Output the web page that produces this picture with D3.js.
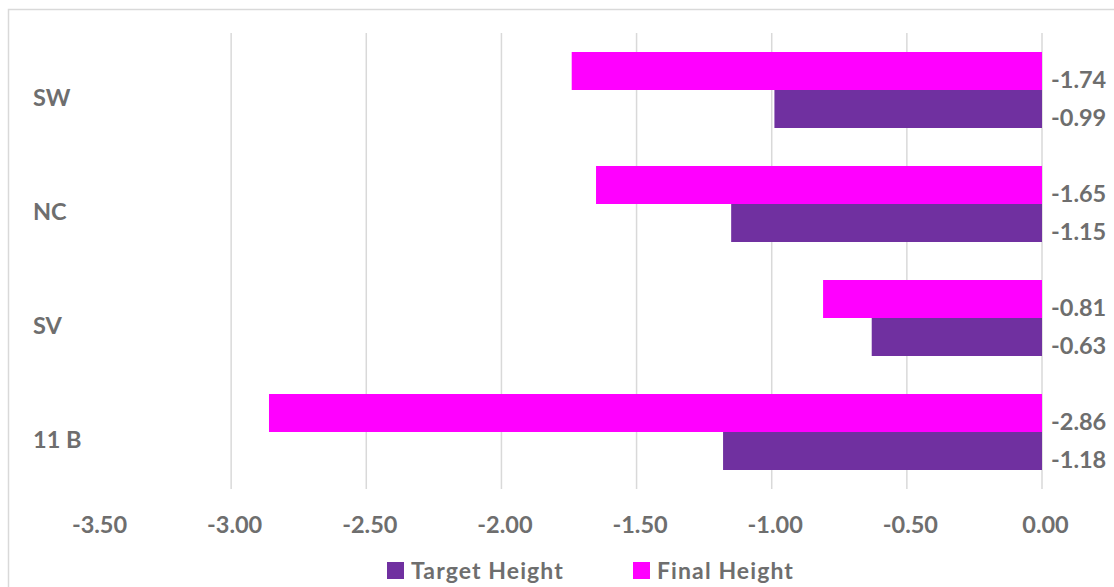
<!DOCTYPE html>
<html><head><meta charset="utf-8">
<script src="https://cdn.jsdelivr.net/npm/d3@7"></script>
<style>body{margin:0;background:#fff;overflow:hidden}svg{display:block}</style>
</head><body><svg id="c" width="1114" height="587"></svg>
<script>
const categories = ["SW", "NC", "SV", "11 B"];
const finalHeight = [-1.74, -1.65, -0.81, -2.86];
const targetHeight = [-0.99, -1.15, -0.63, -1.18];
const tickValues = [-3.5, -3.0, -2.5, -2.0, -1.5, -1.0, -0.5, 0.0];
const seriesNames = ["Target Height", "Final Height"];

const colors = {"Target Height": "#7030A0", "Final Height": "#FF00FF"};
const textColor = "#6e6e6e";
const font = "Lato, 'Open Sans', sans-serif";
const fmt = v => v.toFixed(2);

const svg = d3.select("#c");
// outer frame
svg.append("rect").attr("x", 8.5).attr("y", 9.5).attr("width", 1130).attr("height", 600)
  .attr("fill", "none").attr("stroke", "#d9d9d9").attr("stroke-width", 1.5);

const x = d3.scaleLinear().domain([-3.5, 0]).range([96, 1042]);
const y = d3.scaleBand().domain(categories).range([33, 489]).paddingInner(1/3).paddingOuter(1/6);
const sub = d3.scaleBand().domain(["Final Height", "Target Height"]).range([0, y.bandwidth()]);

// gridlines (skip the leftmost)
svg.append("g").selectAll("line").data(tickValues.filter(t => t > -3.5)).join("line")
  .attr("x1", d => x(d)).attr("x2", d => x(d)).attr("y1", 33).attr("y2", 489)
  .attr("stroke", "#d9d9d9").attr("stroke-width", 1.5);

const data = [];
categories.forEach((c, i) => {
  data.push({cat: c, s: "Final Height", v: finalHeight[i]});
  data.push({cat: c, s: "Target Height", v: targetHeight[i]});
});

svg.append("g").selectAll("rect").data(data).join("rect")
  .attr("x", d => x(d.v)).attr("width", d => x(0) - x(d.v))
  .attr("y", d => y(d.cat) + sub(d.s)).attr("height", sub.bandwidth())
  .attr("fill", d => colors[d.s]);

// value labels
svg.append("g").selectAll("text").data(data).join("text")
  .attr("x", x(0) + 9).attr("y", d => y(d.cat) + sub(d.s) + sub.bandwidth()/2 + 17)
  .attr("font-family", font).attr("font-weight", 700).attr("font-size", 23.5)
  .attr("fill", textColor)
  .text(d => fmt(d.v));

// category labels
svg.append("g").selectAll("text").data(categories).join("text")
  .attr("x", 33).attr("y", d => y(d) + y.bandwidth()/2 + 16)
  .attr("font-family", font).attr("font-weight", 700).attr("font-size", 23.5)
  .attr("fill", textColor)
  .text(d => d);

// x-axis tick labels
const ax = svg.append("g").attr("transform", "translate(0,489)")
  .call(d3.axisBottom(x).tickValues(tickValues).tickFormat(fmt).tickSize(0).tickPadding(0));
ax.select(".domain").remove();
ax.selectAll("text").attr("y", 44).attr("dy", null).attr("dx", 3)
  .attr("font-family", font).attr("font-weight", 700).attr("font-size", 23.5)
  .attr("fill", textColor);

// legend
const legendItems = [
  {name: seriesNames[0], sx: 387, tx: 411},
  {name: seriesNames[1], sx: 633, tx: 657}
];
const lg = svg.append("g");
lg.selectAll("rect").data(legendItems).join("rect")
  .attr("x", d => d.sx).attr("y", 562).attr("width", 17).attr("height", 17)
  .attr("fill", d => colors[d.name]);
lg.selectAll("text").data(legendItems).join("text")
  .attr("x", d => d.tx).attr("y", 579)
  .attr("font-family", font).attr("font-weight", 700).attr("font-size", 23)
  .attr("letter-spacing", 1.1)
  .attr("fill", textColor)
  .text(d => d.name);
</script></body></html>
